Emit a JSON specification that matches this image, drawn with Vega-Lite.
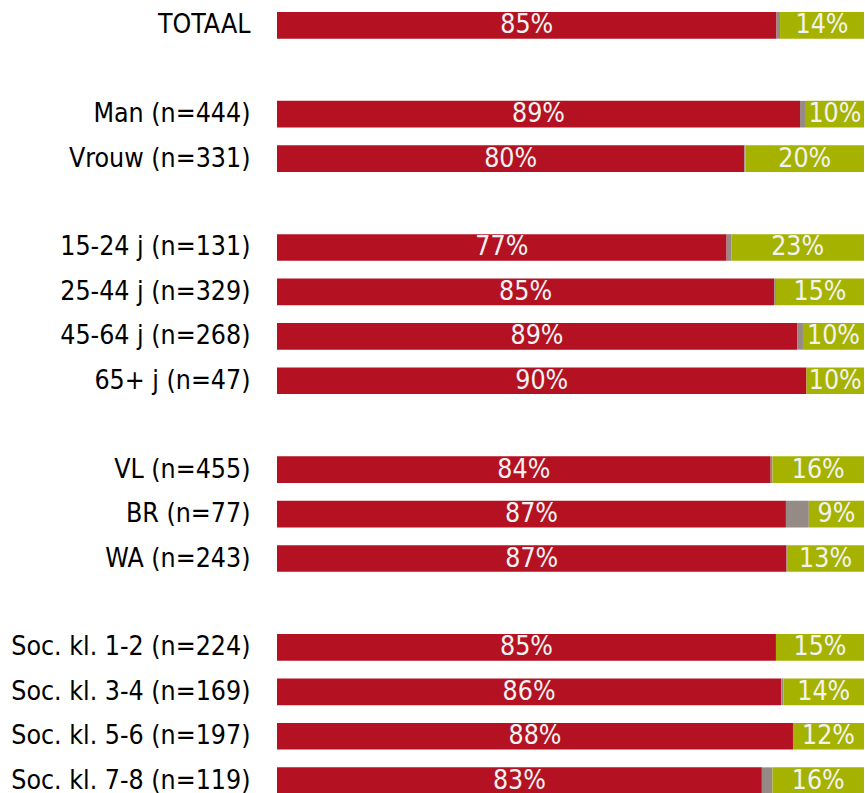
{
  "$schema": "https://vega.github.io/schema/vega-lite/v6.json",
  "width": 587,
  "height": 806,
  "padding": 0,
  "autosize": {"type": "pad"},
  "config": {"view": {"stroke": null}},
  "data": {"values": [
    {"cat": "TOTAAL", "seg": "ja", "o": 1, "v": 0.851},
    {"cat": "TOTAAL", "seg": "wn", "o": 2, "v": 0.006},
    {"cat": "TOTAAL", "seg": "nee", "o": 3, "v": 0.143},
    {"cat": "Man (n=444)", "seg": "ja", "o": 1, "v": 0.891},
    {"cat": "Man (n=444)", "seg": "wn", "o": 2, "v": 0.010},
    {"cat": "Man (n=444)", "seg": "nee", "o": 3, "v": 0.099},
    {"cat": "Vrouw (n=331)", "seg": "ja", "o": 1, "v": 0.796},
    {"cat": "Vrouw (n=331)", "seg": "wn", "o": 2, "v": 0.002},
    {"cat": "Vrouw (n=331)", "seg": "nee", "o": 3, "v": 0.202},
    {"cat": "15-24 j (n=131)", "seg": "ja", "o": 1, "v": 0.766},
    {"cat": "15-24 j (n=131)", "seg": "wn", "o": 2, "v": 0.008},
    {"cat": "15-24 j (n=131)", "seg": "nee", "o": 3, "v": 0.226},
    {"cat": "25-44 j (n=329)", "seg": "ja", "o": 1, "v": 0.847},
    {"cat": "25-44 j (n=329)", "seg": "wn", "o": 2, "v": 0.003},
    {"cat": "25-44 j (n=329)", "seg": "nee", "o": 3, "v": 0.150},
    {"cat": "45-64 j (n=268)", "seg": "ja", "o": 1, "v": 0.886},
    {"cat": "45-64 j (n=268)", "seg": "wn", "o": 2, "v": 0.010},
    {"cat": "45-64 j (n=268)", "seg": "nee", "o": 3, "v": 0.104},
    {"cat": "65+ j (n=47)", "seg": "ja", "o": 1, "v": 0.902},
    {"cat": "65+ j (n=47)", "seg": "wn", "o": 2, "v": 0.0},
    {"cat": "65+ j (n=47)", "seg": "nee", "o": 3, "v": 0.098},
    {"cat": "VL (n=455)", "seg": "ja", "o": 1, "v": 0.841},
    {"cat": "VL (n=455)", "seg": "wn", "o": 2, "v": 0.003},
    {"cat": "VL (n=455)", "seg": "nee", "o": 3, "v": 0.156},
    {"cat": "BR (n=77)", "seg": "ja", "o": 1, "v": 0.867},
    {"cat": "BR (n=77)", "seg": "wn", "o": 2, "v": 0.039},
    {"cat": "BR (n=77)", "seg": "nee", "o": 3, "v": 0.094},
    {"cat": "WA (n=243)", "seg": "ja", "o": 1, "v": 0.868},
    {"cat": "WA (n=243)", "seg": "wn", "o": 2, "v": 0.001},
    {"cat": "WA (n=243)", "seg": "nee", "o": 3, "v": 0.131},
    {"cat": "Soc. kl. 1-2 (n=224)", "seg": "ja", "o": 1, "v": 0.850},
    {"cat": "Soc. kl. 1-2 (n=224)", "seg": "wn", "o": 2, "v": 0.0},
    {"cat": "Soc. kl. 1-2 (n=224)", "seg": "nee", "o": 3, "v": 0.150},
    {"cat": "Soc. kl. 3-4 (n=169)", "seg": "ja", "o": 1, "v": 0.859},
    {"cat": "Soc. kl. 3-4 (n=169)", "seg": "wn", "o": 2, "v": 0.004},
    {"cat": "Soc. kl. 3-4 (n=169)", "seg": "nee", "o": 3, "v": 0.137},
    {"cat": "Soc. kl. 5-6 (n=197)", "seg": "ja", "o": 1, "v": 0.879},
    {"cat": "Soc. kl. 5-6 (n=197)", "seg": "wn", "o": 2, "v": 0.0},
    {"cat": "Soc. kl. 5-6 (n=197)", "seg": "nee", "o": 3, "v": 0.121},
    {"cat": "Soc. kl. 7-8 (n=119)", "seg": "ja", "o": 1, "v": 0.826},
    {"cat": "Soc. kl. 7-8 (n=119)", "seg": "wn", "o": 2, "v": 0.018},
    {"cat": "Soc. kl. 7-8 (n=119)", "seg": "nee", "o": 3, "v": 0.156}
  ]},
  "encoding": {
    "y": {
      "field": "cat",
      "type": "nominal",
      "scale": {
        "domain": ["TOTAAL", "_1", "Man (n=444)", "Vrouw (n=331)", "_2", "15-24 j (n=131)", "25-44 j (n=329)", "45-64 j (n=268)", "65+ j (n=47)", "_3", "VL (n=455)", "BR (n=77)", "WA (n=243)", "_4", "Soc. kl. 1-2 (n=224)", "Soc. kl. 3-4 (n=169)", "Soc. kl. 5-6 (n=197)", "Soc. kl. 7-8 (n=119)"],
        "paddingInner": 0.4,
        "paddingOuter": 0.27
      },
      "axis": {
        "title": null,
        "domain": false,
        "ticks": false,
        "labelPadding": 27,
        "minExtent": 277,
        "maxExtent": 277,
        "labelLimit": 0,
        "labelFont": "DejaVu Sans Condensed, Liberation Sans Narrow, DejaVu Sans",
        "labelFontSize": 26.5,
        "labelColor": "#000000",
        "labelExpr": "indexof(datum.label, '_') == 0 ? '' : datum.label"
      }
    }
  },
  "layer": [
    {
      "mark": {"type": "bar"},
      "encoding": {
        "x": {"field": "v", "type": "quantitative", "stack": "zero", "scale": {"domain": [0, 1], "nice": false}, "axis": null},
        "color": {"field": "seg", "type": "nominal", "scale": {"domain": ["ja", "wn", "nee"], "range": ["#B41222", "#968A86", "#A5B300"]}, "legend": null},
        "order": {"field": "o", "type": "quantitative"}
      }
    },
    {
      "mark": {"type": "text", "font": "DejaVu Sans Condensed, Liberation Sans Narrow, DejaVu Sans", "fontSize": 26.5, "color": "#F2F2F2", "baseline": "middle", "align": "center"},
      "encoding": {
        "x": {"field": "v", "type": "quantitative", "stack": "zero", "bandPosition": 0.5},
        "text": {"field": "v", "type": "quantitative", "format": ".0%"},
        "detail": {"field": "seg", "type": "nominal"},
        "order": {"field": "o", "type": "quantitative"},
        "opacity": {"condition": {"test": "datum.seg == 'wn'", "value": 0}, "value": 1}
      }
    }
  ]
}
